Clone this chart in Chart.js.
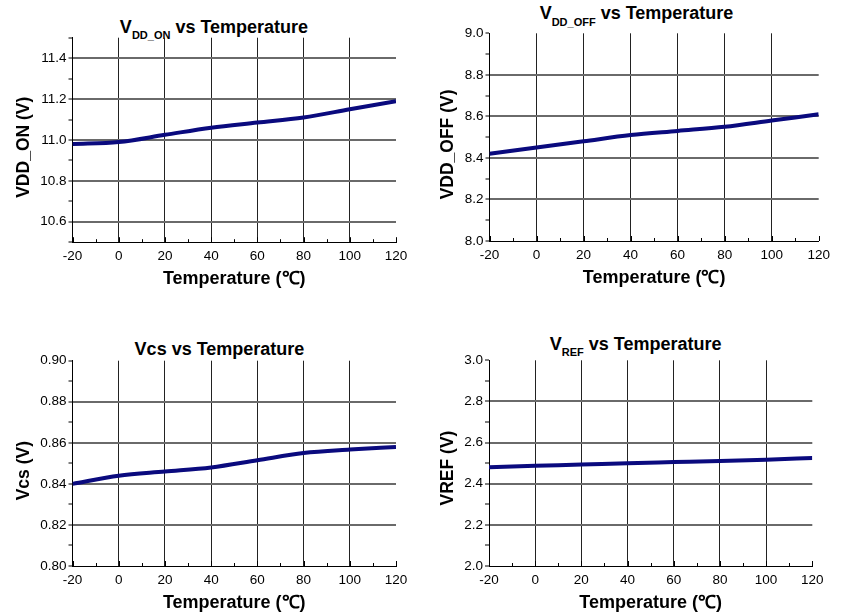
<!DOCTYPE html>
<html><head><meta charset="utf-8">
<script src="https://cdn.jsdelivr.net/npm/chart.js@4.4.1/dist/chart.umd.min.js"></script>
<style>
html,body{margin:0;padding:0;background:#fff;}
body{width:848px;height:616px;position:relative;overflow:hidden;font-family:"Liberation Sans",Arial,sans-serif;}
canvas{position:absolute;}
.ttl{position:absolute;width:400px;text-align:center;font-weight:bold;font-size:18px;line-height:18px;color:#000;white-space:nowrap;}
.ttl span{font-size:11px;position:relative;}
</style></head><body>
<div class="ttl" style="left:14px;top:18.3px;">V<span style="top:5.6px;">DD_ON</span> vs Temperature</div>
<div class="ttl" style="left:436.5px;top:4.3px;">V<span style="top:6.3px;">DD_OFF</span> vs Temperature</div>
<div class="ttl" style="left:19.5px;top:339.8px;">Vcs vs Temperature</div>
<div class="ttl" style="left:435.7px;top:334.8px;">V<span style="top:6px;">REF</span> vs Temperature</div>
<canvas id="c1"></canvas>
<canvas id="c2"></canvas>
<canvas id="c3"></canvas>
<canvas id="c4"></canvas>
<script>
// ---- data ----
const temps = [-20, 0, 20, 40, 60, 80, 100, 120];
const vddOn  = [10.98, 10.99, 11.025, 11.06, 11.085, 11.11, 11.15, 11.19];
const vddOff = [8.42, 8.45, 8.48, 8.51, 8.53, 8.55, 8.58, 8.61];
const vcs    = [0.840, 0.844, 0.846, 0.848, 0.8515, 0.855, 0.8567, 0.858];
const vref   = [2.48, 2.487, 2.493, 2.50, 2.505, 2.51, 2.517, 2.525];

// ---- tick labels ----
const xTickLabels   = [-20, 0, 20, 40, 60, 80, 100, 120];
const yTickLabels1  = [10.6, 10.8, 11.0, 11.2, 11.4];
const yTickLabels2  = [8.0, 8.2, 8.4, 8.6, 8.8, 9.0];
const yTickLabels3  = [0.80, 0.82, 0.84, 0.86, 0.88, 0.90];
const yTickLabels4  = [2.0, 2.2, 2.4, 2.6, 2.8, 3.0];
const yTitles = ['VDD_ON (V)   ', 'VDD_OFF (V)   ', 'Vcs (V)   ', 'VREF (V)  '];
const xTitle = 'Temperature (\u2103)';

const FONT = '"Liberation Sans", Arial, sans-serif';
const LINE = '#0a0a7e';

function has(list, v) { return list.some(l => Math.abs(l - v) < 1e-6); }

const innerTicks = {
  id: 'innerTicks',
  afterDraw(chart) {
    const xs = chart.scales.x, ctx = chart.ctx, b = chart.chartArea.bottom;
    ctx.save();
    ctx.strokeStyle = '#000';
    ctx.lineWidth = 1;
    xs.ticks.forEach(t => {
      const px = Math.round(xs.getPixelForValue(t.value)) + 0.5;
      const major = has(xTickLabels, t.value);
      ctx.beginPath();
      ctx.moveTo(px, b);
      ctx.lineTo(px, b - (major ? 5 : 3));
      ctx.stroke();
    });
    ctx.restore();
  }
};

function make(id, g, values, yMin, yMax, yStep, yLabels, dec, yTitle) {
  const cv = document.getElementById(id);
  cv.width = g.W; cv.height = g.H;
  cv.style.left = g.cx + 'px'; cv.style.top = g.cy + 'px';
  const pts = temps.map((t, i) => ({x: t, y: values[i]}));
  new Chart(cv, {
    type: 'line',
    data: { datasets: [{ data: pts, borderColor: LINE, borderWidth: 4, pointRadius: 0,
      cubicInterpolationMode: 'monotone', fill: false }] },
    options: {
      responsive: false, animation: false, devicePixelRatio: 1,
      layout: { padding: { left: 0, top: g.T, right: g.W - g.R, bottom: 0 } },
      plugins: { legend: { display: false }, tooltip: { enabled: false } },
      scales: {
        x: {
          type: 'linear', min: -20, max: 120,
          afterFit(s) { s.height = g.H - g.B; },
          ticks: { stepSize: 10, autoSkip: false, maxRotation: 0, padding: 6, color: '#000',
            font: { family: FONT, size: 13.5 },
            callback: v => has(xTickLabels, v) ? String(Math.round(v)) : '' },
          grid: { drawTicks: false, lineWidth: 1,
            color: c => (has(xTickLabels, c.tick.value) && c.tick.value > -20 && c.tick.value < 120) ? '#222' : 'rgba(0,0,0,0)' },
          border: { display: true, color: '#000', width: 1 },
          title: { display: true, text: xTitle, color: '#000',
            font: { family: FONT, size: 18, weight: 'bold' },
            padding: { top: 0, bottom: g.H - g.B - 48.1 } }
        },
        y: {
          type: 'linear', min: yMin, max: yMax,
          afterFit(s) { s.width = g.L; },
          ticks: { stepSize: yStep, autoSkip: false, padding: 2, color: '#000',
            font: { family: FONT, size: 13.5 },
            callback: v => has(yLabels, v) ? v.toFixed(dec) : '' },
          grid: { drawTicks: true, tickLength: 4, tickColor: '#000', tickWidth: 1, lineWidth: 2,
            color: c => (has(yLabels, c.tick.value) && c.tick.value > yMin + 1e-9 && c.tick.value < yMax - 1e-9) ? '#6a6a6a' : 'rgba(0,0,0,0)' },
          border: { display: true, color: '#000', width: 1 },
          title: { display: true, text: yTitle, color: '#000',
            font: { family: FONT, size: 17.5, weight: 'bold' },
            padding: { top: 14, bottom: 0 } }
        }
      }
    },
    plugins: [innerTicks]
  });
}

make('c1', {cx: 0,   cy: 0,   W: 424, H: 292, L: 72.5, R: 396,   T: 37.7, B: 242.2}, vddOn,  10.5, 11.5, 0.1,  yTickLabels1, 1, yTitles[0]);
make('c2', {cx: 424, cy: 0,   W: 424, H: 291, L: 65.5, R: 394.7, T: 33.3, B: 241},   vddOff, 8.0,  9.0,  0.1,  yTickLabels2, 1, yTitles[1]);
make('c3', {cx: 0,   cy: 320, W: 424, H: 296, L: 72.5, R: 396,   T: 40.7, B: 246},   vcs,    0.80, 0.90, 0.01, yTickLabels3, 2, yTitles[2]);
make('c4', {cx: 424, cy: 320, W: 424, H: 296, L: 65,   R: 388.3, T: 40.3, B: 246},   vref,   2.0,  3.0,  0.1,  yTickLabels4, 1, yTitles[3]);
</script>
</body></html>
